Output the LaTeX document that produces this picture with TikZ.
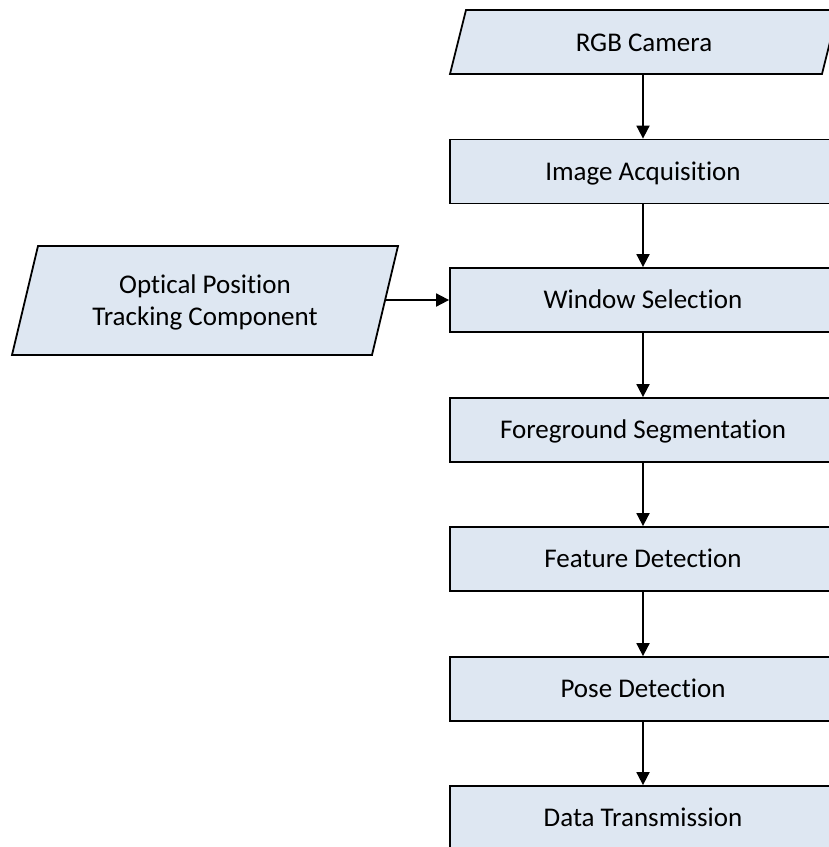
\documentclass[tikz,border=0pt]{standalone}
\usepackage{fontspec}
\setmainfont{Carlito}[Ligatures=NoCommon]
\usetikzlibrary{arrows.meta,calc}
\definecolor{boxfill}{HTML}{DEE7F2}
\tikzset{
  procbox/.style={draw=black, line width=1.8pt, fill=boxfill, minimum width=386pt,
    minimum height=64pt, inner sep=0pt, text height=19pt, text depth=2pt,
    font=\fontsize{27}{32}\selectfont},
  iotext/.style={inner sep=0pt, align=center, font=\fontsize{27}{32}\selectfont},
  ioshape/.style={draw=black, line width=1.8pt, fill=boxfill, line join=miter},
  flow/.style={line width=1.8pt, -{Triangle[length=13pt,width=13pt]}}
}
\begin{document}
\begin{tikzpicture}[x=1pt,y=-1pt]
  \useasboundingbox (0,0) rectangle (829,847);
  % input / output shapes (parallelograms)
  \draw[ioshape] (450,74) -- (822,74) -- (838,10) -- (466,10) -- cycle;
  \draw[ioshape] (12,355) -- (372,355) -- (398,246) -- (38,246) -- cycle;
  \node[iotext, minimum width=372pt, minimum height=64pt, text height=19pt, text depth=0pt]
    (rgb) at (644,42) {RGB Camera};
  \node[iotext, minimum width=360pt, minimum height=109pt] (opt) at (205,302)
    {Optical Position\\Tracking Component};
  % processing steps
  \node[procbox] (acq) at (643,171.5) {Image Acquisition};
  \node[procbox] (win) at (643,300) {Window Selection};
  \node[procbox] (seg) at (643,430) {Foreground Segmentation};
  \node[procbox] (feat) at (643,559) {Feature Detection};
  \node[procbox] (pose) at (643,689) {Pose Detection};
  \node[procbox] (data) at (643,818) {Data Transmission};
  % connectors
  \draw[flow] (rgb.south -| acq.north) -- (acq.north);
  \draw[flow] (acq) -- (win);
  \draw[flow] (win) -- (seg);
  \draw[flow] (seg) -- (feat);
  \draw[flow] (feat) -- (pose);
  \draw[flow] (pose) -- (data);
  \draw[flow] (opt.east |- win.west) -- (win.west);
\end{tikzpicture}
\end{document}
